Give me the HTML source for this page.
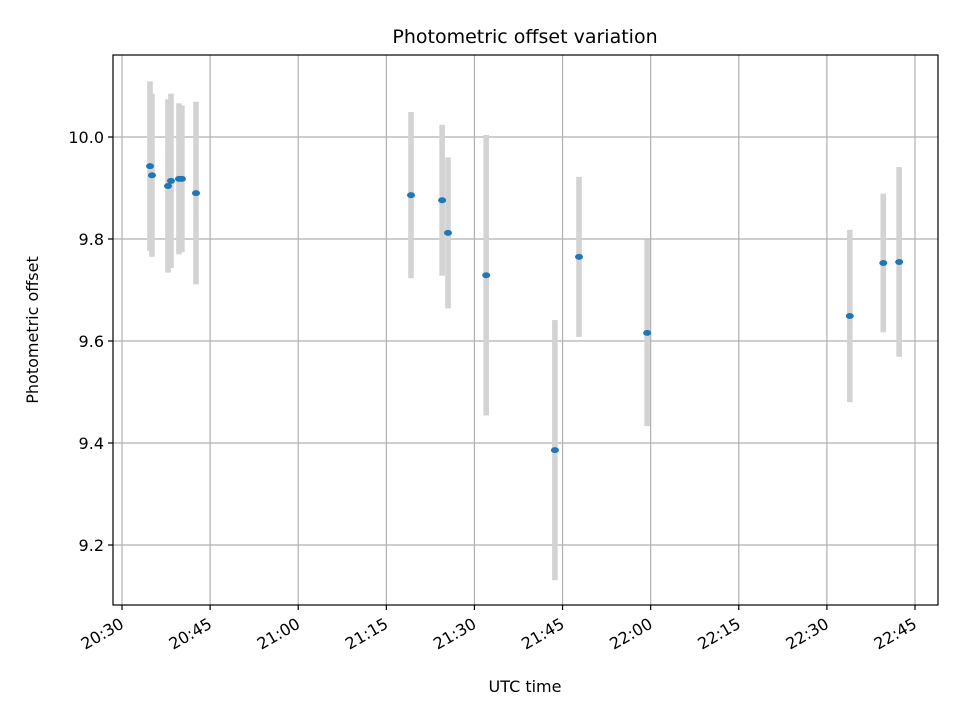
<!DOCTYPE html>
<html><head><meta charset="utf-8"><style>
body{margin:0;background:#fff;font-family:"Liberation Sans","DejaVu Sans",sans-serif;}
svg text{font-family:"DejaVu Sans","Liberation Sans",sans-serif;fill:#000;}
</style></head><body>
<svg id="chart" width="960" height="720" viewBox="0 0 960 720" xmlns="http://www.w3.org/2000/svg">
<rect x="0" y="0" width="960" height="720" fill="#fff"/>
<text x="525" y="43" font-size="19" text-anchor="middle">Photometric offset variation</text>
<text x="525" y="692" font-size="16" text-anchor="middle">UTC time</text>
<text x="0" y="0" font-size="16" text-anchor="middle" transform="translate(38,330) rotate(-90)">Photometric offset</text>
<g id="grid"></g><g id="bars"></g><g id="pts"></g><g id="ticks"></g>
<rect x="113" y="55" width="825" height="550" fill="none" stroke="#000" stroke-width="1.2"/>
</svg>
<script>
// minutes after 20:30 UTC
const times=[4.77,5.1,7.83,8.34,9.7,10.2,12.6,49.2,54.5,55.5,62.0,73.7,77.8,89.4,123.9,129.6,132.3];
const offsets=[9.943,9.925,9.904,9.914,9.918,9.918,9.890,9.886,9.876,9.812,9.729,9.386,9.765,9.616,9.649,9.753,9.755];
const errors=[0.166,0.160,0.170,0.171,0.148,0.144,0.179,0.163,0.148,0.148,0.275,0.255,0.157,0.183,0.169,0.136,0.186];
const xTickMinutes=[0,15,30,45,60,75,90,105,120,135];
const xTickLabels=["20:30","20:45","21:00","21:15","21:30","21:45","22:00","22:15","22:30","22:45"];
const yTicks=[9.2,9.4,9.6,9.8,10.0];
const yTickLabels=["9.2","9.4","9.6","9.8","10.0"];

const NS="http://www.w3.org/2000/svg";
const X=m=>122+m*(915-122)/135;
const Y=v=>137-(v-10.0)*510;
function mk(tag,attrs,parent){const e=document.createElementNS(NS,tag);for(const k in attrs)e.setAttribute(k,attrs[k]);parent.appendChild(e);return e;}
const grid=document.getElementById('grid'),bars=document.getElementById('bars'),pts=document.getElementById('pts'),ticks=document.getElementById('ticks');
xTickMinutes.forEach((m,i)=>{
  const x=X(m);
  const g=mk('line',{x1:x,x2:x,y1:55,y2:605,stroke:'#b0b0b0','stroke-width':1.2},grid);
  
  
  const t=mk('line',{x1:x,x2:x,y1:605,y2:610,stroke:'#000','stroke-width':1.2},ticks);
  
  
  const l=mk('text',{x:0,y:0,'font-size':16,'text-anchor':'end',transform:`translate(${x+3},${627}) rotate(-30)`},ticks);
  l.textContent=xTickLabels[i];
  
  
});
yTicks.forEach((v,i)=>{
  const y=Y(v);
  const g=mk('line',{x1:113,x2:938,y1:y,y2:y,stroke:'#b0b0b0','stroke-width':1.2},grid);
  
  
  const t=mk('line',{x1:108,x2:113,y1:y,y2:y,stroke:'#000','stroke-width':1.2},ticks);
  
  
  const l=mk('text',{x:104,y:y+6,'font-size':16,'text-anchor':'end'},ticks);
  l.textContent=yTickLabels[i];
  
  
});
times.forEach((m,i)=>{
  const x=X(m);
  const b=mk('rect',{x:x-2.8,y:Y(offsets[i]+errors[i]),width:5.6,height:Y(offsets[i]-errors[i])-Y(offsets[i]+errors[i]),fill:'#d3d3d3'},bars);
  
  
  const p=mk('ellipse',{cx:x,cy:Y(offsets[i]),rx:4,ry:3,fill:'#1f77b4'},pts);
  
  
});
</script>
</body></html>
